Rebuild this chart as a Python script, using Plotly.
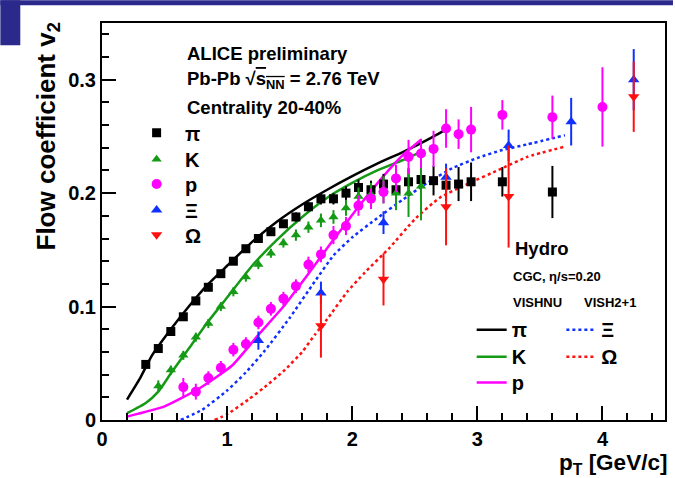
import plotly.graph_objects as go

# ---------------- data ----------------
pi_pt = [0.35, 0.45, 0.55, 0.65, 0.75, 0.85, 0.95, 1.05, 1.15, 1.25, 1.35, 1.45, 1.55, 1.65, 1.75,
         1.85, 1.95, 2.05, 2.15, 2.25, 2.35, 2.45, 2.55, 2.65, 2.75, 2.85, 2.95, 3.2, 3.6]
pi_v2 = [0.049, 0.063, 0.078, 0.091, 0.105, 0.117, 0.129, 0.140, 0.151, 0.160, 0.166, 0.173, 0.179,
         0.188, 0.195, 0.195, 0.200, 0.205, 0.203, 0.208, 0.203, 0.210, 0.212, 0.211, 0.207, 0.208,
         0.210, 0.210, 0.201]
pi_err = [0.002, 0.002, 0.002, 0.002, 0.002, 0.002, 0.002, 0.002, 0.003, 0.003, 0.003, 0.003, 0.004,
          0.004, 0.005, 0.005, 0.006, 0.007, 0.008, 0.009, 0.010, 0.012, 0.012, 0.013, 0.014, 0.015,
          0.017, 0.013, 0.023]

k_pt = [0.45, 0.55, 0.65, 0.75, 0.85, 0.95, 1.05, 1.15, 1.25, 1.35, 1.45, 1.55, 1.65, 1.75, 1.85,
        1.95, 2.05, 2.15, 2.25, 2.35, 2.45, 2.55]
k_v2 = [0.030, 0.044, 0.057, 0.073, 0.085, 0.100, 0.113, 0.126, 0.137, 0.147, 0.156, 0.163, 0.170,
        0.176, 0.179, 0.187, 0.197, 0.199, 0.203, 0.200, 0.200, 0.206]
k_err = [0.005, 0.004, 0.004, 0.004, 0.004, 0.004, 0.004, 0.004, 0.004, 0.004, 0.004, 0.005, 0.005,
         0.006, 0.006, 0.007, 0.008, 0.010, 0.012, 0.015, 0.021, 0.030]

p_pt = [0.65, 0.75, 0.85, 0.95, 1.05, 1.15, 1.25, 1.35, 1.45, 1.55, 1.65, 1.75, 1.85, 1.95, 2.05,
        2.15, 2.25, 2.35, 2.45, 2.55, 2.65, 2.75, 2.85, 2.95, 3.2, 3.6, 4.0]
p_v2 = [0.029, 0.025, 0.037, 0.046, 0.062, 0.067, 0.086, 0.098, 0.107, 0.118, 0.137, 0.146, 0.163,
        0.171, 0.189, 0.195, 0.201, 0.213, 0.232, 0.235, 0.239, 0.257, 0.252, 0.256, 0.269, 0.267,
        0.276]
p_err = [0.008, 0.007, 0.006, 0.006, 0.006, 0.006, 0.006, 0.006, 0.006, 0.006, 0.007, 0.007, 0.008,
         0.008, 0.009, 0.009, 0.010, 0.012, 0.015, 0.013, 0.016, 0.017, 0.013, 0.020, 0.013, 0.019,
         0.035]

xi_pt = [1.25, 1.75, 2.25, 2.75, 3.25, 3.75, 4.25]
xi_v2 = [0.070, 0.112, 0.174, 0.214, 0.242, 0.263, 0.300]
xi_err = [0.008, 0.010, 0.010, 0.012, 0.014, 0.021, 0.027]

om_pt = [1.75, 2.25, 2.75, 3.25, 4.25]
om_v2 = [0.083, 0.124, 0.188, 0.197, 0.285]
om_err = [0.028, 0.023, 0.034, 0.045, 0.031]

# hydro curves
h_pi_pt = [0.2, 0.3, 0.4, 0.55, 0.7, 0.85, 1.0, 1.2, 1.4, 1.6, 1.8, 2.0, 2.2, 2.4, 2.6, 2.78]
h_pi_v2 = [0.018, 0.036, 0.057, 0.080, 0.101, 0.120, 0.136, 0.157, 0.175, 0.190, 0.203, 0.215,
           0.226, 0.236, 0.247, 0.258]
h_k_pt = [0.2, 0.35, 0.45, 0.55, 0.7, 0.85, 1.0, 1.2, 1.4, 1.6, 1.8, 2.0, 2.2, 2.4, 2.58]
h_k_v2 = [0.006, 0.015, 0.025, 0.041, 0.064, 0.087, 0.108, 0.136, 0.159, 0.179, 0.196, 0.209,
          0.220, 0.229, 0.238]
h_p_pt = [0.2, 0.5, 0.78, 1.04, 1.25, 1.45, 1.65, 1.83, 1.94, 2.05, 2.25, 2.4, 2.55]
h_p_v2 = [0.003, 0.012, 0.028, 0.048, 0.075, 0.100, 0.129, 0.156, 0.172, 0.188, 0.215, 0.233, 0.247]
h_xi_pt = [0.63, 0.8, 1.0, 1.15, 1.3, 1.5, 1.7, 1.85, 2.0, 2.2, 2.4, 2.6, 2.8, 3.0, 3.2, 3.4, 3.7]
h_xi_v2 = [0.0, 0.009, 0.026, 0.042, 0.061, 0.090, 0.122, 0.145, 0.161, 0.178, 0.194, 0.209,
           0.222, 0.231, 0.238, 0.243, 0.251]
h_om_pt = [0.9, 1.0, 1.17, 1.3, 1.45, 1.6, 1.7, 1.8, 1.96, 2.1, 2.3, 2.5, 2.7, 2.9, 3.2, 3.4, 3.7]
h_om_v2 = [0.0, 0.005, 0.018, 0.029, 0.043, 0.060, 0.075, 0.089, 0.113, 0.130, 0.152, 0.177,
           0.196, 0.207, 0.222, 0.232, 0.241]

x_ticks = [0, 1, 2, 3, 4]
y_ticks = [0, 0.1, 0.2, 0.3]
y_tick_labels = ["0", "0.1", "0.2", "0.3"]

# ---------------- style ----------------
W, H = 675, 478
L, R, T, B = 102, 667, 22.7, 420.5
FONT = "Liberation Sans"
BLACK = "#000000"
GREEN = "#159a15"
MAGENTA = "#ff00ff"
BLUE = "#1030ff"
RED = "#ff1010"
NAVY = "#2b2a8c"


def px(x):
    return (x - L) / (R - L)


def py(y):
    return (B - y) / (B - T)


fig = go.Figure()

# hydro curves (legend entries in separate legends)
hydro = [
    (h_pi_pt, h_pi_v2, BLACK, "solid", "π", "legend6", 473, 330),
    (h_k_pt, h_k_v2, GREEN, "solid", "K", "legend7", 473, 357),
    (h_p_pt, h_p_v2, MAGENTA, "solid", "p", "legend8", 473, 383),
    (h_xi_pt, h_xi_v2, BLUE, "dot", "Ξ", "legend9", 563, 330),
    (h_om_pt, h_om_v2, RED, "dot", "Ω", "legend10", 563, 357),
]
for xs, ys, col, dash, name, lg, lx, ly in hydro:
    fig.add_trace(go.Scatter(
        x=xs, y=ys, mode="lines", name=name, legend=lg,
        line=dict(color=col, width=2.5, dash=dash, shape="spline", smoothing=0.5),
    ))

# data points
data = [
    (pi_pt, pi_v2, pi_err, BLACK, "square", 9, "π", "legend", 132.7),
    (k_pt, k_v2, k_err, GREEN, "triangle-up", 9, "K", "legend2", 159.3),
    (p_pt, p_v2, p_err, MAGENTA, "circle", 10, "p", "legend3", 184),
    (xi_pt, xi_v2, xi_err, BLUE, "triangle-up", 10, "Ξ", "legend4", 210),
    (om_pt, om_v2, om_err, RED, "triangle-down", 10, "Ω", "legend5", 235),
]
for xs, ys, es, col, sym, size, name, lg, ly in data:
    fig.add_trace(go.Scatter(
        x=xs, y=ys, mode="markers", name=name, legend=lg,
        marker=dict(color=col, symbol=sym, size=size, line=dict(width=0)),
        error_y=dict(type="data", array=es, visible=True, color=col, thickness=2, width=0),
    ))

legend_layout = {}
for xs, ys, es, col, sym, size, name, lg, ly in data:
    legend_layout[lg] = dict(
        x=px(128.2), y=py(ly), xanchor="left", yanchor="middle",
        bgcolor="rgba(0,0,0,0)", borderwidth=0, itemwidth=47,
        font=dict(family=FONT, size=20, color="black", weight="bold"),
    )
for xs, ys, col, dash, name, lg, lx, ly in hydro:
    legend_layout[lg] = dict(
        x=px(lx), y=py(ly), xanchor="left", yanchor="middle",
        bgcolor="rgba(0,0,0,0)", borderwidth=0, itemwidth=30,
        font=dict(family=FONT, size=20, color="black", weight="bold"),
    )

annotations = [
    dict(text="ALICE preliminary", x=px(185), y=py(53), xanchor="left", yanchor="middle",
         font=dict(size=18.5)),
    dict(text="Pb-Pb √<span style='text-decoration:overline'>s<sub>NN</sub></span> = 2.76 TeV",
         x=px(185), y=py(80), xanchor="left", yanchor="middle", font=dict(size=18.5)),
    dict(text="Centrality 20-40%", x=px(185), y=py(107), xanchor="left", yanchor="middle",
         font=dict(size=18.5)),
    dict(text="Hydro", x=px(514), y=py(249), xanchor="left", yanchor="middle", font=dict(size=18.5)),
    dict(text="CGC, η/s=0.20", x=px(512), y=py(277), xanchor="left", yanchor="middle",
         font=dict(size=13)),
    dict(text="VISHNU", x=px(512), y=py(303), xanchor="left", yanchor="middle", font=dict(size=13)),
    dict(text="VISH2+1", x=px(584), y=py(303), xanchor="left", yanchor="middle", font=dict(size=13)),
    dict(text="Flow coefficient v<sub>2</sub>", x=px(47), y=py(20), xanchor="center", yanchor="top",
         textangle=-90, font=dict(size=26)),
    dict(text="p<sub>T</sub> [GeV/c]", x=px(671), y=py(465), xanchor="right", yanchor="middle",
         font=dict(size=22.5)),
]
for a in annotations:
    a.update(xref="paper", yref="paper", showarrow=False)
    a["font"].update(family=FONT, color="black", weight="bold")

shapes = [
    dict(type="rect", xref="paper", yref="paper", x0=px(0), x1=px(W), y0=py(5), y1=py(0),
         fillcolor=NAVY, line=dict(width=0), layer="above"),
    dict(type="rect", xref="paper", yref="paper", x0=px(0), x1=px(20), y0=py(45), y1=py(0),
         fillcolor=NAVY, line=dict(width=0), layer="above"),
]

axis_common = dict(
    showgrid=False, zeroline=False, showline=True, linecolor="black", linewidth=2,
    mirror=True, ticks="inside", ticklen=14, tickwidth=2, tickcolor="black",
    tickfont=dict(family=FONT, size=20, color="black", weight="bold"),
)

fig.update_layout(
    width=W, height=H,
    margin=dict(l=L, r=W - R, t=T, b=H - B, pad=0),
    paper_bgcolor="white", plot_bgcolor="white",
    showlegend=True,
    annotations=annotations,
    shapes=shapes,
    xaxis=dict(range=[0, 4.5], tickvals=x_ticks, ticktext=[str(v) for v in x_ticks],
               minor=dict(dtick=0.2, ticks="inside", ticklen=7, tickwidth=2, tickcolor="black"),
               **axis_common),
    yaxis=dict(range=[0, 0.35], tickvals=y_ticks, ticktext=y_tick_labels,
               minor=dict(dtick=0.02, ticks="inside", ticklen=7, tickwidth=2, tickcolor="black"),
               **axis_common),
    **legend_layout,
)

fig.write_html("out.html")
